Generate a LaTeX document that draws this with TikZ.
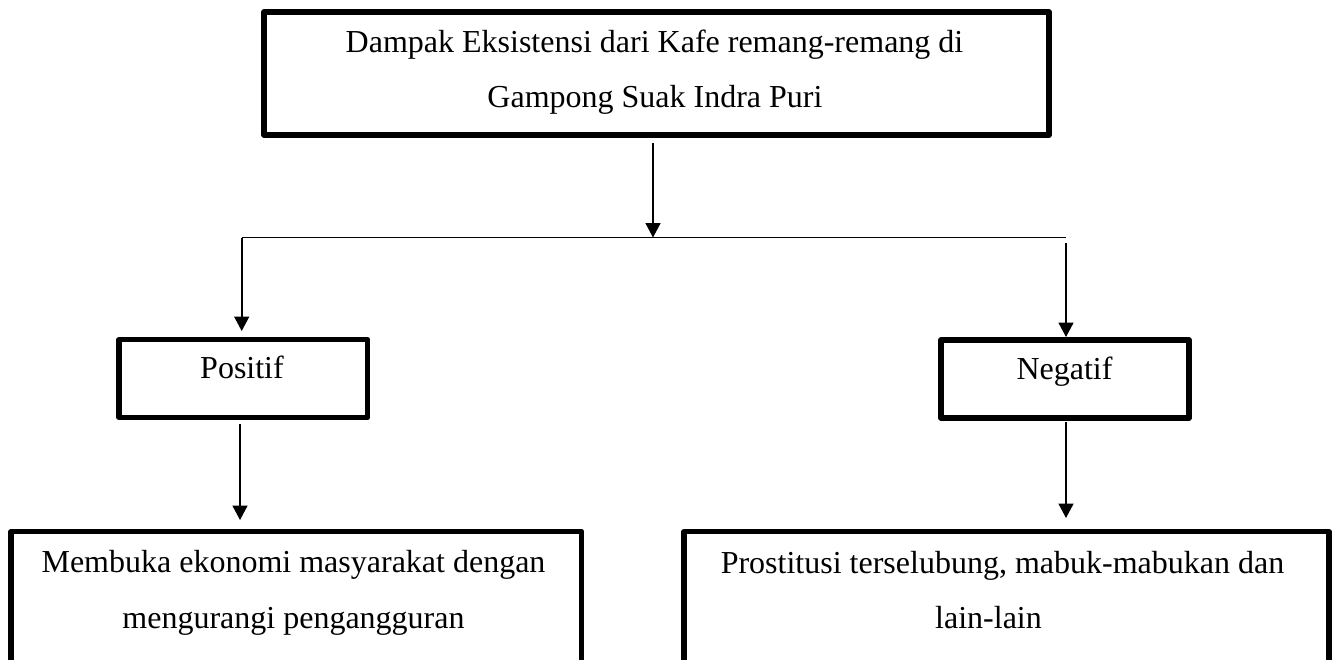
\documentclass[tikz,border=0pt]{standalone}
\usepackage{fontspec}
\setmainfont{Liberation Serif}
\usetikzlibrary{arrows.meta}
\begin{document}
\begin{tikzpicture}[x=1pt,y=-1pt,
  box/.style={draw, line width=5.4pt, line join=round, inner sep=0pt, outer sep=0pt, anchor=north west},
  lbl/.style={anchor=base, inner sep=0pt, font=\fontsize{32}{38}\selectfont},
  arr/.style={line width=1.7pt, -{Triangle[length=14.5pt,width=15pt]}},
  conn/.style={line width=1.7pt}]
\useasboundingbox (0,0) rectangle (1335,659);
\fill[white] (0,0) rectangle (1335,659);
\clip (0,0) rectangle (1335,659);
% boxes
\node[box, minimum width=785pt, minimum height=123pt] (top) at (264,12) {};
\node[box, minimum width=248.5pt, minimum height=78pt] (pos) at (119,339.5) {};
\node[box, minimum width=248pt, minimum height=78pt] (neg) at (941,340) {};
\node[box, minimum width=570.5pt, minimum height=200pt] (posb) at (11,531.5) {};
\node[box, minimum width=645pt, minimum height=200pt] (negb) at (684,531.5) {};
% texts
\node[lbl] (t1) at (654.5,52) {Dampak Eksistensi dari Kafe remang-remang di};
\node[lbl] (t2) at (655,107) {Gampong Suak Indra Puri};
\node[lbl] (tp) at (242,378) {Positif};
\node[lbl] (tn) at (1064.5,379) {Negatif};
\node[lbl] (tb1) at (293.5,572) {Membuka ekonomi masyarakat dengan};
\node[lbl] (tb2) at (293.5,628) {mengurangi pengangguran};
\node[lbl] (tc1) at (1002.5,573) {Prostitusi terselubung, mabuk-mabukan dan};
\node[lbl] (tc2) at (988.5,628) {lain-lain};
% connectors
\coordinate (j) at (653,237.5);
\coordinate (jl) at (241.7,237.5);
\coordinate (jr) at (1066,237.5);
\coordinate (pa) at (240,0);
\draw[arr, shorten <=8pt] (j |- top.south) -- (j);
\draw[conn] (jl) -- (jr);
\draw[arr, shorten >=8.5pt] (jl) -- (jl |- pos.north);
\draw[arr, shorten <=5.5pt, shorten >=3pt] (jr) -- (jr |- neg.north);
\draw[arr, shorten <=6.5pt, shorten >=11.5pt] (pa |- pos.south) -- (pa |- posb.north);
\draw[arr, shorten <=4pt, shorten >=13.5pt] (jr |- neg.south) -- (jr |- negb.north);
\end{tikzpicture}
\end{document}
